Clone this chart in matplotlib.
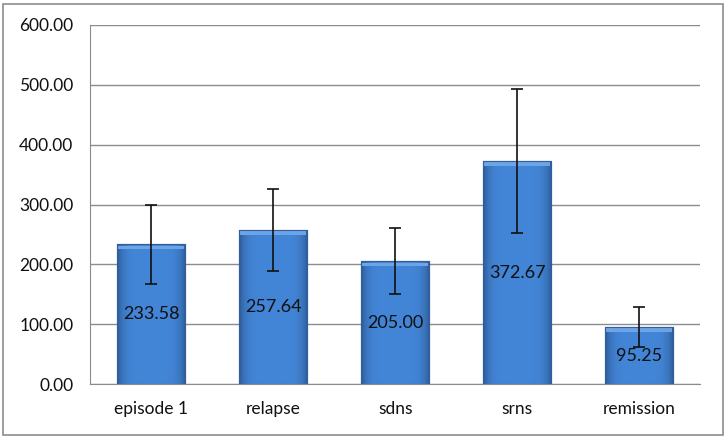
import numpy as np
import matplotlib.pyplot as plt
from matplotlib.patches import Rectangle

plt.rcParams['font.family'] = ['Lato', 'DejaVu Sans']

categories = ['episode 1', 'relapse', 'sdns', 'srns', 'remission']
means = [233.58, 257.64, 205.00, 372.67, 95.25]
errors = [66, 69, 55, 121, 33]
yticks = [0, 100, 200, 300, 400, 500, 600]

fig = plt.figure(figsize=(7.27, 4.38), dpi=100)
ax = fig.add_axes([0.124, 0.123, 0.839, 0.820])

x = np.arange(len(categories))
bars = ax.bar(x, means, width=0.56, color='#3b78c6', edgecolor='#2a5a9a', linewidth=0.8, zorder=2)

# horizontal shading across each bar: slightly darker edges
grad = np.linspace(-1, 1, 64)
shade = 1 - 0.32 * grad ** 6
img = np.zeros((1, 64, 3))
base = np.array([0.26, 0.52, 0.84])
for k in range(3):
    img[0, :, k] = base[k] * shade
for b in bars:
    x0, y0 = b.get_x(), b.get_y()
    w, h = b.get_width(), b.get_height()
    im = ax.imshow(img, extent=[x0, x0 + w, y0, y0 + h], aspect='auto', zorder=2.1)
    im.set_clip_path(b)
    # lighter rim at the top
    ax.add_patch(Rectangle((x0 + 0.01, h - 8), w - 0.02, 6, color='#6ea3e6', lw=0, zorder=2.2))
    ax.add_patch(Rectangle((x0, y0), w, h, fill=False, ec='#2f5f9e', lw=0.8, zorder=2.3))

ax.errorbar(x, means, yerr=errors, fmt='none', ecolor='#111111', elinewidth=1.2,
            capsize=4, capthick=1.2, zorder=3)

for xi, m in zip(x, means):
    ax.text(xi, m / 2, '%.2f' % m, ha='center', va='center', fontsize=13, color='#111111', zorder=4)

ax.set_xlim(-0.5, len(categories) - 0.5)
ax.set_ylim(0, 600)
ax.set_yticks(yticks)
ax.set_yticklabels(['%.2f' % v for v in yticks])
ax.set_xticks(x)
ax.set_xticklabels(categories)
ax.tick_params(axis='both', length=0, labelsize=12.5, colors='#111111')
ax.tick_params(axis='y', pad=12)
ax.tick_params(axis='x', pad=12)
ax.yaxis.grid(True, color='#8c8c8c', linewidth=1.0, zorder=0)
ax.set_axisbelow(True)
for s in ['top', 'right']:
    ax.spines[s].set_visible(False)
ax.spines['left'].set_color('#8c8c8c')
ax.spines['bottom'].set_color('#8c8c8c')

fig.patches.append(Rectangle((0.004, 0.006), 0.99, 0.985, transform=fig.transFigure,
                             fill=False, ec='#8c8c8c', lw=1.2))

fig.savefig('out.png', dpi=100)
